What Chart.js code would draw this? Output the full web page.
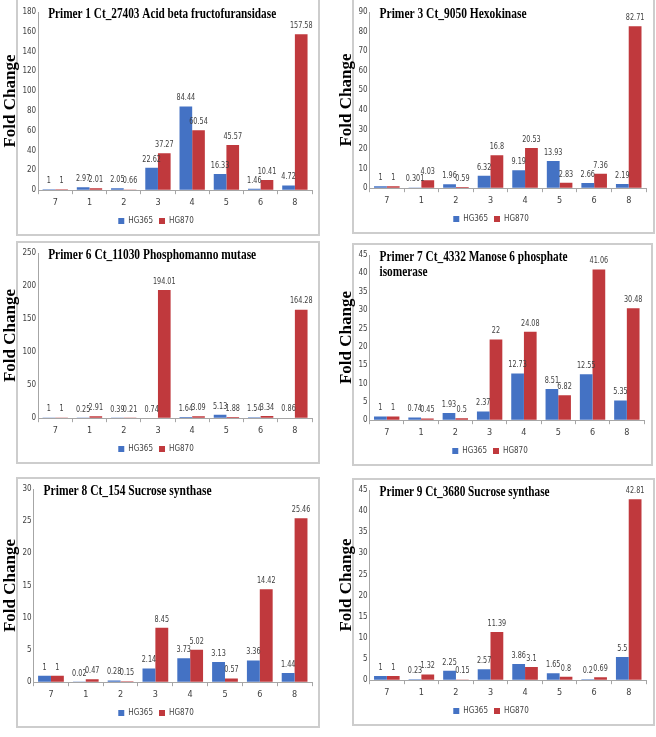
<!DOCTYPE html>
<html lang="en">
<head>
    <meta charset="UTF-8">
    <title>Fold Change by primer</title>
    <style>
        body {
            margin: 0;
            background: #fff;
        }

        .page {
            position: relative;
            width: 656px;
            height: 737px;
            overflow: hidden;
        }

        .box {
            position: absolute;
            box-sizing: border-box;
            border: 2px solid #cdcdcd;
        }

        .plot {
            position: absolute;
        }
    </style>
</head>
<body>
    <div class="page" id="page"></div>

    <script src="https://cdn.jsdelivr.net/npm/chart.js"></script>
    <script>
        const categories = ['7', '1', '2', '3', '4', '5', '6', '8'];
        const seriesNames = ['HG365', 'HG870'];

        const primer1HG365 = [1, 2.97, 2.05, 22.62, 84.44, 16.33, 1.46, 4.72];
        const primer1HG870 = [1, 2.01, 0.66, 37.27, 60.54, 45.57, 10.41, 157.58];
        const primer1Ticks = [0, 20, 40, 60, 80, 100, 120, 140, 160, 180];

        const primer3HG365 = [1, 0.301, 1.96, 6.32, 9.19, 13.93, 2.66, 2.19];
        const primer3HG870 = [1, 4.03, 0.59, 16.8, 20.53, 2.83, 7.36, 82.71];
        const primer3Ticks = [0, 10, 20, 30, 40, 50, 60, 70, 80, 90];

        const primer6HG365 = [1, 0.25, 0.39, 0.74, 1.64, 5.13, 1.54, 0.86];
        const primer6HG870 = [1, 2.91, 0.21, 194.01, 3.09, 1.88, 3.34, 164.28];
        const primer6Ticks = [0, 50, 100, 150, 200, 250];

        const primer7HG365 = [1, 0.74, 1.93, 2.37, 12.73, 8.51, 12.55, 5.35];
        const primer7HG870 = [1, 0.45, 0.5, 22, 24.08, 6.82, 41.06, 30.48];
        const primer7Ticks = [0, 5, 10, 15, 20, 25, 30, 35, 40, 45];

        const primer8HG365 = [1, 0.02, 0.28, 2.14, 3.73, 3.13, 3.36, 1.44];
        const primer8HG870 = [1, 0.47, 0.15, 8.45, 5.02, 0.57, 14.42, 25.46];
        const primer8Ticks = [0, 5, 10, 15, 20, 25, 30];

        const primer9HG365 = [1, 0.23, 2.25, 2.57, 3.86, 1.65, 0.2, 5.5];
        const primer9HG870 = [1, 1.32, 0.15, 11.39, 3.1, 0.8, 0.69, 42.81];
        const primer9Ticks = [0, 5, 10, 15, 20, 25, 30, 35, 40, 45];

        const blue = '#4472c4';
        const red = '#c0393d';
        const smallFont = '"Liberation Sans Narrow", "DejaVu Sans Condensed", "Liberation Sans", sans-serif';
        const serifFont = '"Liberation Serif", "DejaVu Serif", serif';

        // panel frame (box) and canvas placement, title squeeze width
        const panels = [
            { title: ['Primer 1 Ct_27403 Acid beta fructofuransidase'], a: primer1HG365, b: primer1HG870, ticks: primer1Ticks,
              box: [16, -2, 304, 238], canvas: [0, 0, 320, 235], titleWidth: 228 },
            { title: ['Primer 3 Ct_9050 Hexokinase'], a: primer3HG365, b: primer3HG870, ticks: primer3Ticks,
              box: [352, -2, 303, 236], canvas: [336, 0, 318, 233], titleWidth: 147 },
            { title: ['Primer 6 Ct_11030 Phosphomanno mutase'], a: primer6HG365, b: primer6HG870, ticks: primer6Ticks,
              box: [16, 241, 304, 223], canvas: [0, 241, 320, 222], titleWidth: 208 },
            { title: ['Primer 7 Ct_4332 Manose 6 phosphate', 'isomerase'], a: primer7HG365, b: primer7HG870, ticks: primer7Ticks,
              box: [352, 243, 301, 223], canvas: [336, 243, 316, 222], titleWidth: 188 },
            { title: ['Primer 8 Ct_154 Sucrose synthase'], a: primer8HG365, b: primer8HG870, ticks: primer8Ticks,
              box: [16, 477, 304, 251], canvas: [0, 477, 320, 250], titleWidth: 168 },
            { title: ['Primer 9 Ct_3680 Sucrose synthase'], a: primer9HG365, b: primer9HG870, ticks: primer9Ticks,
              box: [352, 478, 303, 248], canvas: [336, 478, 318, 247], titleWidth: 170 },
        ];

        // value text above each bar, narrowed like the original
        const valueLabels = {
            id: 'valueLabels',
            afterDatasetsDraw(chart) {
                const ctx = chart.ctx;
                ctx.save();
                ctx.font = '9px ' + smallFont;
                ctx.fillStyle = '#404040';
                ctx.textAlign = 'center';
                ctx.textBaseline = 'bottom';
                chart.data.datasets.forEach((ds, i) => {
                    chart.getDatasetMeta(i).data.forEach((bar, j) => {
                        ctx.save();
                        ctx.translate(bar.x, bar.y - 4);
                        ctx.scale(0.8, 1);
                        ctx.fillText(String(ds.data[j]), 0, 0);
                        ctx.restore();
                    });
                });
                ctx.restore();
            }
        };

        // bold serif title sitting inside the plot area
        const panelTitle = {
            id: 'panelTitle',
            afterDraw(chart, args, opts) {
                const ctx = chart.ctx;
                const area = chart.chartArea;
                ctx.save();
                ctx.font = 'bold 14px ' + serifFont;
                ctx.fillStyle = '#000';
                ctx.textBaseline = 'middle';
                const natural = ctx.measureText(opts.lines[0]).width;
                const sx = opts.width / natural;
                opts.lines.forEach((line, k) => {
                    ctx.save();
                    ctx.translate(area.left + 10, area.top + 2 + k * 15);
                    ctx.scale(sx, 1);
                    ctx.fillText(line, 0, 0);
                    ctx.restore();
                });
                ctx.restore();
            }
        };

        const page = document.getElementById('page');

        panels.forEach((p) => {
            const box = document.createElement('div');
            box.className = 'box';
            box.style.left = p.box[0] + 'px';
            box.style.top = p.box[1] + 'px';
            box.style.width = p.box[2] + 'px';
            box.style.height = p.box[3] + 'px';
            page.appendChild(box);

            const wrap = document.createElement('div');
            wrap.className = 'plot';
            wrap.style.left = p.canvas[0] + 'px';
            wrap.style.top = p.canvas[1] + 'px';
            wrap.style.width = p.canvas[2] + 'px';
            wrap.style.height = p.canvas[3] + 'px';
            const canvas = document.createElement('canvas');
            wrap.appendChild(canvas);
            page.appendChild(wrap);

            const top = p.ticks[p.ticks.length - 1];

            new Chart(canvas, {
                type: 'bar',
                data: {
                    labels: categories,
                    datasets: [
                        { label: seriesNames[0], data: p.a, backgroundColor: blue },
                        { label: seriesNames[1], data: p.b, backgroundColor: red },
                    ],
                },
                options: {
                    responsive: true,
                    maintainAspectRatio: false,
                    animation: false,
                    layout: { padding: { top: 12, right: 8, bottom: 0, left: 0 } },
                    datasets: { bar: { categoryPercentage: 0.74, barPercentage: 1.0 } },
                    scales: {
                        x: {
                            grid: { offset: true, drawOnChartArea: false, tickLength: 4, color: '#a6a6a6' },
                            border: { color: '#a6a6a6' },
                            ticks: { font: { family: smallFont, size: 9 }, color: '#404040', padding: 3 },
                        },
                        y: {
                            min: 0,
                            max: top,
                            afterBuildTicks: (scale) => { scale.ticks = p.ticks.map((v) => ({ value: v })); },
                            grid: { drawOnChartArea: false, drawTicks: false, color: '#a6a6a6' },
                            border: { color: '#a6a6a6' },
                            ticks: { font: { family: smallFont, size: 8 }, color: '#404040', padding: 2 },
                            title: {
                                display: true,
                                text: 'Fold Change',
                                font: { family: serifFont, size: 17, weight: 'bold' },
                                color: '#000',
                                padding: { top: 0, bottom: 0 },
                            },
                        },
                    },
                    plugins: {
                        legend: {
                            position: 'bottom',
                            labels: {
                                boxWidth: 6,
                                boxHeight: 6,
                                padding: 6,
                                font: { family: smallFont, size: 8 },
                                color: '#404040',
                            },
                        },
                        tooltip: { enabled: false },
                        panelTitle: { lines: p.title, width: p.titleWidth },
                    },
                },
                plugins: [valueLabels, panelTitle],
            });
        });
    </script>
</body>
</html>
